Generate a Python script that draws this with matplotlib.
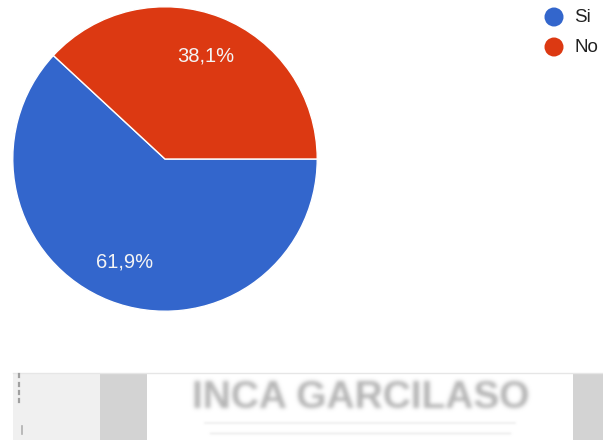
import numpy as np
import matplotlib
matplotlib.use("Agg")
import matplotlib.pyplot as plt
from matplotlib.patches import Rectangle, Circle

categories = ["Si", "No"]
values = [61.9, 38.1]
colors = ["#3366CC", "#DC3912"]
banner_text = "INCA GARCILASO"

W, H, DPI = 603, 440, 100
plt.rcParams["font.family"] = ["Liberation Sans", "DejaVu Sans"]

fig = plt.figure(figsize=(W / DPI, H / DPI), dpi=DPI)
fig.patch.set_facecolor("white")

# pie axes: centre (165, 159) px, radius 153 px
cx, cy, r = 165, 159, 153
ax = fig.add_axes([(cx - r) / W, (H - cy - r) / H, 2 * r / W, 2 * r / H])
wedges, _, autotexts = ax.pie(
    values,
    colors=colors,
    startangle=0,
    counterclock=False,
    radius=1.0,
    autopct=lambda p: f"{p:.1f}%".replace(".", ","),
    pctdistance=0.73,
    wedgeprops=dict(edgecolor="white", linewidth=1.0),
    textprops=dict(color="#f4f4f4", fontsize=14.5),
)
ax.set_xlim(-1.005, 1.005)
ax.set_ylim(-1.005, 1.005)
ax.axis("off")

# overlay in pixel coordinates for legend and footer banner
ov = fig.add_axes([0, 0, 1, 1], zorder=5)
ov.set_xlim(0, W)
ov.set_ylim(H, 0)
ov.axis("off")

# legend
for i, (cat, col) in enumerate(zip(categories, colors)):
    y = 17 + 30 * i
    ov.add_patch(Circle((554, y), 9.5, facecolor=col, edgecolor="none"))
    ov.text(574, y, cat, fontsize=13.5, color="#222222", va="center", ha="left")


def gaussian_blur(sigma):
    """Agg filter: premultiplied gaussian blur of an artist's pixels."""
    def _blur1d(a, axis, x, k):
        out = np.zeros_like(a)
        for j, w in zip(x, k):
            out += w * np.roll(a, j, axis=axis)
        return out

    def _filter(im, dpi):
        pad = int(4 * sigma) + 4
        src = np.pad(im, ((pad, pad), (pad, pad), (0, 0)))
        x = np.arange(-int(3 * sigma) - 1, int(3 * sigma) + 2)
        k = np.exp(-x ** 2 / (2 * sigma ** 2))
        k /= k.sum()
        pm = src.copy()
        pm[..., :3] *= pm[..., 3:4]
        pm = _blur1d(_blur1d(pm, 0, x, k), 1, x, k)
        a = pm[..., 3:4]
        out = pm.copy()
        out[..., :3] = np.where(a > 1e-6, pm[..., :3] / np.maximum(a, 1e-6), 0)
        return np.clip(out, 0, 1), -pad, -pad
    return _filter


# footer banner
top = 373
ov.add_patch(Rectangle((13, top), 87, H - top, facecolor="#f0f0f0", edgecolor="none"))
ov.add_patch(Rectangle((100, top), 47, H - top, facecolor="#d3d3d3", edgecolor="none"))
ov.add_patch(Rectangle((147, top), 426, H - top, facecolor="#ffffff", edgecolor="none"))
ov.add_patch(Rectangle((573, top), 30, H - top, facecolor="#d3d3d3", edgecolor="none"))
ov.plot([13, 603], [top, top], color="#e6e6e6", lw=1.0)
for yy in (376, 385, 393, 401):
    ov.plot([19, 19], [yy - 1.5, yy + 1.5], color="#a0a0a0", lw=1.6)
ov.plot([22, 22], [426, 434], color="#b0b0b0", lw=1.2)

t = ov.text(361, 398, banner_text, fontweight="bold", fontsize=28,
            color="#b4b4b4", ha="center", va="center")
t.set_agg_filter(gaussian_blur(2.0))
sub = ov.plot([205, 515], [423, 423], color="#ececec", lw=1.2)[0]
sub.set_agg_filter(gaussian_blur(1.0))
ln = ov.plot([210, 510], [433, 433], color="#e6e6e6", lw=1.0)[0]
ln.set_agg_filter(gaussian_blur(1.0))

fig.savefig("out.png", dpi=DPI, facecolor="white")
